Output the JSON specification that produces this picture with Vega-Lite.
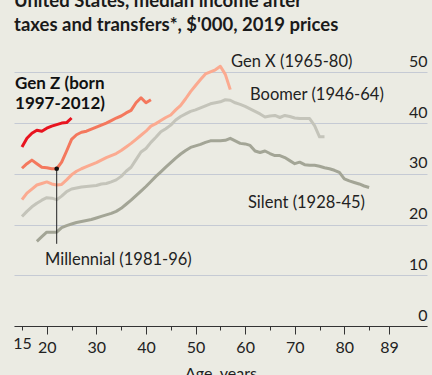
{
 "$schema": "https://vega.github.io/schema/vega-lite/v6.json",
 "width": 413, "height": 279,
 "autosize": {"type": "none"},
 "padding": {"left": 14, "right": 5, "top": 47, "bottom": 49},
 "background": "#ebebe3",
 "config": {"view": {"stroke": null}, "font": "Lato"},
 "title": {"text": ["United States, median income after", "taxes and transfers*, $'000, 2019 prices"], "anchor": "start", "frame": "group", "font": "Lato", "fontSize": 18.5, "fontWeight": "bold", "color": "#1a1a1a", "offset": 13, "lineHeight": 24},
 "datasets": {
  "series": [
   {"gen":"Gen Z","age":15,"v":35.3},{"gen":"Gen Z","age":16,"v":37.0},{"gen":"Gen Z","age":17,"v":38.0},{"gen":"Gen Z","age":18,"v":38.6},{"gen":"Gen Z","age":19,"v":38.4},{"gen":"Gen Z","age":20,"v":39.0},{"gen":"Gen Z","age":21,"v":39.4},{"gen":"Gen Z","age":22,"v":39.7},{"gen":"Gen Z","age":23,"v":40.0},{"gen":"Gen Z","age":24,"v":40.1},{"gen":"Gen Z","age":25,"v":41.0},
   {"gen":"Millennial","age":15,"v":31.1},{"gen":"Millennial","age":16,"v":32.0},{"gen":"Millennial","age":17,"v":32.7},{"gen":"Millennial","age":18,"v":32.0},{"gen":"Millennial","age":19,"v":31.3},{"gen":"Millennial","age":20,"v":31.2},{"gen":"Millennial","age":21,"v":31.0},{"gen":"Millennial","age":22,"v":31.0},{"gen":"Millennial","age":23,"v":32.3},{"gen":"Millennial","age":24,"v":34.5},{"gen":"Millennial","age":25,"v":36.8},{"gen":"Millennial","age":26,"v":37.7},{"gen":"Millennial","age":27,"v":38.2},{"gen":"Millennial","age":28,"v":38.4},{"gen":"Millennial","age":29,"v":38.8},{"gen":"Millennial","age":30,"v":39.2},{"gen":"Millennial","age":31,"v":39.6},{"gen":"Millennial","age":32,"v":40.0},{"gen":"Millennial","age":33,"v":40.5},{"gen":"Millennial","age":34,"v":41.0},{"gen":"Millennial","age":35,"v":41.4},{"gen":"Millennial","age":36,"v":42.0},{"gen":"Millennial","age":37,"v":42.5},{"gen":"Millennial","age":38,"v":44.0},{"gen":"Millennial","age":39,"v":45.0},{"gen":"Millennial","age":40,"v":44.0},{"gen":"Millennial","age":41,"v":44.6},
   {"gen":"Gen X","age":15,"v":24.9},{"gen":"Gen X","age":16,"v":26.2},{"gen":"Gen X","age":17,"v":27.0},{"gen":"Gen X","age":18,"v":27.8},{"gen":"Gen X","age":19,"v":28.1},{"gen":"Gen X","age":20,"v":28.4},{"gen":"Gen X","age":21,"v":28.0},{"gen":"Gen X","age":22,"v":27.8},{"gen":"Gen X","age":23,"v":27.9},{"gen":"Gen X","age":24,"v":28.8},{"gen":"Gen X","age":25,"v":29.8},{"gen":"Gen X","age":26,"v":30.5},{"gen":"Gen X","age":27,"v":31.0},{"gen":"Gen X","age":28,"v":31.4},{"gen":"Gen X","age":29,"v":31.8},{"gen":"Gen X","age":30,"v":32.2},{"gen":"Gen X","age":31,"v":32.7},{"gen":"Gen X","age":32,"v":33.2},{"gen":"Gen X","age":33,"v":33.6},{"gen":"Gen X","age":34,"v":34.0},{"gen":"Gen X","age":35,"v":34.6},{"gen":"Gen X","age":36,"v":35.3},{"gen":"Gen X","age":37,"v":36.0},{"gen":"Gen X","age":38,"v":36.8},{"gen":"Gen X","age":39,"v":37.6},{"gen":"Gen X","age":40,"v":38.4},{"gen":"Gen X","age":41,"v":39.4},{"gen":"Gen X","age":42,"v":39.9},{"gen":"Gen X","age":43,"v":40.5},{"gen":"Gen X","age":44,"v":41.1},{"gen":"Gen X","age":45,"v":41.6},{"gen":"Gen X","age":46,"v":42.6},{"gen":"Gen X","age":47,"v":43.5},{"gen":"Gen X","age":48,"v":44.8},{"gen":"Gen X","age":49,"v":46.2},{"gen":"Gen X","age":50,"v":47.4},{"gen":"Gen X","age":51,"v":48.6},{"gen":"Gen X","age":52,"v":49.7},{"gen":"Gen X","age":53,"v":50.1},{"gen":"Gen X","age":54,"v":50.5},{"gen":"Gen X","age":55,"v":51.2},{"gen":"Gen X","age":56,"v":49.6},{"gen":"Gen X","age":57,"v":46.6},
   {"gen":"Boomer","age":15,"v":21.6},{"gen":"Boomer","age":16,"v":22.6},{"gen":"Boomer","age":17,"v":23.5},{"gen":"Boomer","age":18,"v":24.2},{"gen":"Boomer","age":19,"v":24.8},{"gen":"Boomer","age":20,"v":25.3},{"gen":"Boomer","age":21,"v":25.2},{"gen":"Boomer","age":22,"v":24.9},{"gen":"Boomer","age":23,"v":25.6},{"gen":"Boomer","age":24,"v":26.5},{"gen":"Boomer","age":25,"v":27.0},{"gen":"Boomer","age":26,"v":27.2},{"gen":"Boomer","age":27,"v":27.4},{"gen":"Boomer","age":28,"v":27.5},{"gen":"Boomer","age":29,"v":27.6},{"gen":"Boomer","age":30,"v":27.7},{"gen":"Boomer","age":31,"v":28.0},{"gen":"Boomer","age":32,"v":28.1},{"gen":"Boomer","age":33,"v":28.4},{"gen":"Boomer","age":34,"v":28.8},{"gen":"Boomer","age":35,"v":29.5},{"gen":"Boomer","age":36,"v":30.5},{"gen":"Boomer","age":37,"v":31.3},{"gen":"Boomer","age":38,"v":32.8},{"gen":"Boomer","age":39,"v":34.3},{"gen":"Boomer","age":40,"v":35.0},{"gen":"Boomer","age":41,"v":36.2},{"gen":"Boomer","age":42,"v":37.2},{"gen":"Boomer","age":43,"v":38.3},{"gen":"Boomer","age":44,"v":38.9},{"gen":"Boomer","age":45,"v":39.6},{"gen":"Boomer","age":46,"v":40.6},{"gen":"Boomer","age":47,"v":41.3},{"gen":"Boomer","age":48,"v":41.8},{"gen":"Boomer","age":49,"v":42.3},{"gen":"Boomer","age":50,"v":42.6},{"gen":"Boomer","age":51,"v":43.0},{"gen":"Boomer","age":52,"v":43.4},{"gen":"Boomer","age":53,"v":43.8},{"gen":"Boomer","age":54,"v":44.0},{"gen":"Boomer","age":55,"v":44.2},{"gen":"Boomer","age":56,"v":44.6},{"gen":"Boomer","age":57,"v":44.5},{"gen":"Boomer","age":58,"v":44.0},{"gen":"Boomer","age":59,"v":43.7},{"gen":"Boomer","age":60,"v":43.3},{"gen":"Boomer","age":61,"v":42.8},{"gen":"Boomer","age":62,"v":42.3},{"gen":"Boomer","age":63,"v":41.8},{"gen":"Boomer","age":64,"v":41.2},{"gen":"Boomer","age":65,"v":41.4},{"gen":"Boomer","age":66,"v":41.5},{"gen":"Boomer","age":67,"v":41.1},{"gen":"Boomer","age":68,"v":41.5},{"gen":"Boomer","age":69,"v":41.3},{"gen":"Boomer","age":70,"v":41.0},{"gen":"Boomer","age":71,"v":40.9},{"gen":"Boomer","age":72,"v":40.9},{"gen":"Boomer","age":73,"v":40.9},{"gen":"Boomer","age":74,"v":39.5},{"gen":"Boomer","age":75,"v":37.3},{"gen":"Boomer","age":76,"v":37.3},
   {"gen":"Silent","age":18,"v":16.7},{"gen":"Silent","age":19,"v":17.6},{"gen":"Silent","age":20,"v":18.5},{"gen":"Silent","age":21,"v":18.5},{"gen":"Silent","age":22,"v":18.5},{"gen":"Silent","age":23,"v":19.4},{"gen":"Silent","age":24,"v":19.8},{"gen":"Silent","age":25,"v":20.1},{"gen":"Silent","age":26,"v":20.4},{"gen":"Silent","age":27,"v":20.6},{"gen":"Silent","age":28,"v":20.8},{"gen":"Silent","age":29,"v":21.0},{"gen":"Silent","age":30,"v":21.3},{"gen":"Silent","age":31,"v":21.6},{"gen":"Silent","age":32,"v":21.9},{"gen":"Silent","age":33,"v":22.2},{"gen":"Silent","age":34,"v":22.6},{"gen":"Silent","age":35,"v":23.2},{"gen":"Silent","age":36,"v":24.0},{"gen":"Silent","age":37,"v":24.8},{"gen":"Silent","age":38,"v":25.7},{"gen":"Silent","age":39,"v":26.6},{"gen":"Silent","age":40,"v":27.5},{"gen":"Silent","age":41,"v":28.5},{"gen":"Silent","age":42,"v":29.5},{"gen":"Silent","age":43,"v":30.4},{"gen":"Silent","age":44,"v":31.3},{"gen":"Silent","age":45,"v":32.2},{"gen":"Silent","age":46,"v":33.1},{"gen":"Silent","age":47,"v":33.9},{"gen":"Silent","age":48,"v":34.6},{"gen":"Silent","age":49,"v":35.2},{"gen":"Silent","age":50,"v":35.5},{"gen":"Silent","age":51,"v":35.8},{"gen":"Silent","age":52,"v":36.2},{"gen":"Silent","age":53,"v":36.5},{"gen":"Silent","age":54,"v":36.5},{"gen":"Silent","age":55,"v":36.5},{"gen":"Silent","age":56,"v":36.6},{"gen":"Silent","age":57,"v":37.0},{"gen":"Silent","age":58,"v":36.5},{"gen":"Silent","age":59,"v":36.0},{"gen":"Silent","age":60,"v":35.9},{"gen":"Silent","age":61,"v":35.6},{"gen":"Silent","age":62,"v":34.5},{"gen":"Silent","age":63,"v":34.2},{"gen":"Silent","age":64,"v":34.5},{"gen":"Silent","age":65,"v":34.0},{"gen":"Silent","age":66,"v":33.6},{"gen":"Silent","age":67,"v":33.6},{"gen":"Silent","age":68,"v":33.2},{"gen":"Silent","age":69,"v":32.6},{"gen":"Silent","age":70,"v":32.0},{"gen":"Silent","age":71,"v":32.3},{"gen":"Silent","age":72,"v":31.8},{"gen":"Silent","age":73,"v":31.7},{"gen":"Silent","age":74,"v":31.7},{"gen":"Silent","age":75,"v":31.5},{"gen":"Silent","age":76,"v":31.2},{"gen":"Silent","age":77,"v":31.0},{"gen":"Silent","age":78,"v":30.7},{"gen":"Silent","age":79,"v":30.3},{"gen":"Silent","age":80,"v":29.0},{"gen":"Silent","age":81,"v":28.6},{"gen":"Silent","age":82,"v":28.3},{"gen":"Silent","age":83,"v":28.0},{"gen":"Silent","age":84,"v":27.6},{"gen":"Silent","age":85,"v":27.3}
  ],
  "labels": [
   {"age": 57.15, "v": 51.0, "text": "Gen X (1965-80)"},
   {"age": 60.98, "v": 44.5, "text": "Boomer (1946-64)"},
   {"age": 60.57, "v": 23.2, "text": "Silent (1928-45)"},
   {"age": 19.64, "v": 12.0, "text": "Millennial (1981-96)"}
  ],
  "genz": [{"age": 13.6, "v": 46.8, "text": "Gen Z (born\n1997-2012)"}],
  "marker": [{"age": 22, "v": 31.0, "v2": 16.2}]
 },
 "encoding": {
  "x": {"field": "age", "type": "quantitative", "scale": {"domain": [13.39, 96.67], "nice": false, "zero": false},
    "axis": {"values": [15,20,25,30,35,40,45,50,55,60,65,70,75,80,85,89], "labelExpr": "(datum.value == 25 || datum.value == 35 || datum.value == 45 || datum.value == 55 || datum.value == 65 || datum.value == 75 || datum.value == 85) ? '' : datum.label", "grid": false, "domainColor": "#333333", "domainWidth": 1, "tickColor": "#333333", "tickSize": {"condition": {"test": "datum.value == 15 || datum.value == 25 || datum.value == 35 || datum.value == 45 || datum.value == 55 || datum.value == 65 || datum.value == 75 || datum.value == 85", "value": 4}, "value": 8}, "labelFont": "Lato", "labelFontSize": 16, "labelColor": "#222222", "labelPadding": 5, "labelFlush": false, "labelOverlap": false, "title": "Age, years", "titleFont": "Lato", "titleFontSize": 16, "titleFontWeight": "normal", "titleColor": "#222222", "titlePadding": 10}},
  "y": {"field": "v", "type": "quantitative", "scale": {"domain": [0, 55], "nice": false},
    "axis": {"orient": "right", "values": [0,10,20,30,40,50], "grid": true, "gridColor": "#c5cad4", "gridWidth": 1, "domain": false, "ticks": false, "tickSize": 0, "labelAlign": "right", "labelBaseline": "alphabetic", "labelOffset": -6, "labelPadding": 0, "labelFont": "Lato", "labelFontSize": 16, "labelColor": "#222222", "title": null}}
 },
 "layer": [
  {
   "data": {"name": "series"},
   "mark": {"type": "line", "strokeWidth": 3, "strokeJoin": "round", "strokeCap": "butt"},
   "encoding": {
    "color": {"field": "gen", "type": "nominal", "scale": {"domain": ["Silent", "Boomer", "Gen X", "Millennial", "Gen Z"], "range": ["#a3a596", "#c4c4ba", "#fbaa90", "#f4785d", "#e8141f"]}, "legend": null}
   }
  },
  {
   "data": {"name": "marker"},
   "mark": {"type": "rule", "color": "#222222", "strokeWidth": 1},
   "encoding": {"y2": {"field": "v2"}}
  },
  {
   "data": {"name": "marker"},
   "mark": {"type": "point", "filled": true, "color": "#111111", "size": 22, "opacity": 1},
   "encoding": {}
  },
  {
   "data": {"name": "labels"},
   "mark": {"type": "text", "align": "left", "baseline": "alphabetic", "font": "Lato", "fontSize": 16.5, "color": "#222222"},
   "encoding": {"text": {"field": "text"}}
  },
  {
   "data": {"name": "genz"},
   "mark": {"type": "text", "align": "left", "baseline": "alphabetic", "font": "Lato", "fontSize": 17, "fontWeight": "bold", "color": "#111111", "lineBreak": "\n", "lineHeight": 20},
   "encoding": {"text": {"field": "text"}}
  }
 ]
}
